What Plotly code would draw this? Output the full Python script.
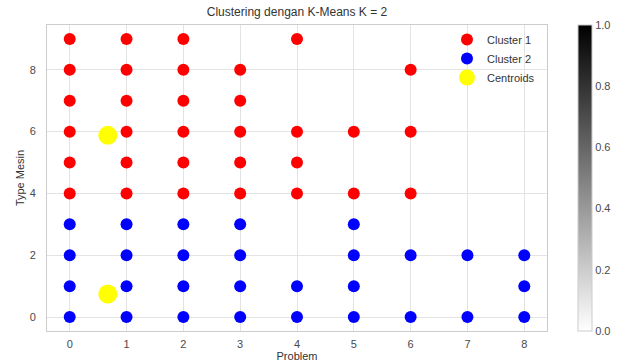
import plotly.graph_objects as go

# Cluster 1 members (Problem, Type Mesin)
c1_problem = [0, 0, 0, 0, 0, 0,
              1, 1, 1, 1, 1, 1,
              2, 2, 2, 2, 2, 2,
              3, 3, 3, 3, 3,
              4, 4, 4, 4,
              5, 5,
              6, 6, 6]
c1_type = [4, 5, 6, 7, 8, 9,
           4, 5, 6, 7, 8, 9,
           4, 5, 6, 7, 8, 9,
           4, 5, 6, 7, 8,
           4, 5, 6, 9,
           4, 6,
           4, 6, 8]

# Cluster 2 members
c2_problem = [0, 0, 0, 0,
              1, 1, 1, 1,
              2, 2, 2, 2,
              3, 3, 3, 3,
              4, 4,
              5, 5, 5, 5,
              6, 6,
              7, 7,
              8, 8, 8]
c2_type = [0, 1, 2, 3,
           0, 1, 2, 3,
           0, 1, 2, 3,
           0, 1, 2, 3,
           0, 1,
           0, 1, 2, 3,
           0, 2,
           0, 2,
           0, 1, 2]

# Cluster centres
centroid_problem = [0.67, 0.67]
centroid_type = [5.88, 0.75]

x_ticks = [0, 1, 2, 3, 4, 5, 6, 7, 8]
y_ticks = [0, 2, 4, 6, 8]
cbar_ticks = [0.0, 0.2, 0.4, 0.6, 0.8, 1.0]

FONT = "Liberation Sans, Arial, sans-serif"
TICK_COLOR = "#4a4a4a"

fig = go.Figure()
fig.add_trace(go.Scatter(x=c1_problem, y=c1_type, mode="markers", name="Cluster 1",
                         marker=dict(color="red", size=12)))
fig.add_trace(go.Scatter(x=c2_problem, y=c2_type, mode="markers", name="Cluster 2",
                         marker=dict(color="blue", size=12)))
fig.add_trace(go.Scatter(x=centroid_problem, y=centroid_type, mode="markers", name="Centroids",
                         marker=dict(color="yellow", size=19)))

# greyscale colour bar on the right
fig.add_trace(go.Scatter(
    x=[None], y=[None], mode="markers", showlegend=False, hoverinfo="skip",
    marker=dict(
        color=[0], cmin=0, cmax=1,
        colorscale=[[0, "#ffffff"], [1, "#000000"]],
        showscale=True,
        colorbar=dict(
            x=1.062, xanchor="left", y=0.5, yanchor="middle",
            lenmode="pixels", len=306, thickness=14,
            outlinewidth=1, outlinecolor="#cccccc",
            ticks="", tickvals=cbar_ticks, ticktext=[f"{v:.1f}" for v in cbar_ticks],
            tickfont=dict(family=FONT, size=11, color=TICK_COLOR),
            xpad=0, ypad=0,
        ),
    ),
))

fig.update_layout(
    width=627, height=364,
    margin=dict(l=47, r=80, t=25, b=33, autoexpand=False),
    paper_bgcolor="white", plot_bgcolor="white",
    title=dict(text="Clustering dengan K-Means K = 2", x=(47 + 250) / 627, xanchor="center",
               y=1 - 12 / 364, yanchor="middle",
               font=dict(family=FONT, size=12, color="#333333")),
    font=dict(family=FONT, size=11, color=TICK_COLOR),
    legend=dict(x=0.80, y=1.0, xanchor="left", yanchor="top",
                bgcolor="rgba(0,0,0,0)", font=dict(family=FONT, size=11, color="#333333"),
                tracegroupgap=0, itemsizing="trace"),
    showlegend=True,
)
fig.update_xaxes(
    range=[-0.4, 8.4], tickvals=x_ticks, ticks="", showgrid=True, gridcolor="#e3e3e3", gridwidth=1,
    zeroline=False, showline=True, linecolor="#cccccc", linewidth=1, mirror=True,
    automargin=False, ticklabelstandoff=3,
    title=dict(text="Problem", font=dict(family=FONT, size=11, color="#333333"), standoff=2),
    tickfont=dict(family=FONT, size=11, color=TICK_COLOR),
)
fig.update_yaxes(
    range=[-0.45, 9.45], tickvals=y_ticks, ticks="", showgrid=True, gridcolor="#e3e3e3", gridwidth=1,
    zeroline=False, showline=True, linecolor="#cccccc", linewidth=1, mirror=True,
    automargin=False, ticklabelstandoff=8,
    title=dict(text="Type Mesin", font=dict(family=FONT, size=11, color="#333333"), standoff=2),
    tickfont=dict(family=FONT, size=11, color=TICK_COLOR),
)

fig.write_html("out.html")
